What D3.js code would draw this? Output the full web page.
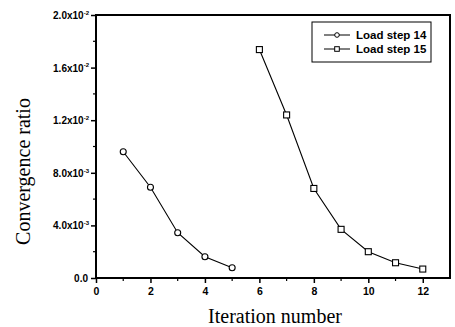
<!DOCTYPE html>
<html><head><meta charset="utf-8">
<script src="https://cdn.jsdelivr.net/npm/d3@7"></script>
<style>body{margin:0;background:#fff}</style>
</head><body>
<script>
const xs14 = [1, 2, 3, 4, 5];
const ys14 = [0.00960, 0.00690, 0.00344, 0.00162, 0.00078];
const xs15 = [6, 7, 8, 9, 10, 11, 12];
const ys15 = [0.01737, 0.01240, 0.00681, 0.00370, 0.00200, 0.00116, 0.00068];
const xTicks = [0, 2, 4, 6, 8, 10, 12];
const yTicks = [0, 0.004, 0.008, 0.012, 0.016, 0.020];
const yTickMant = ["0.0", "4.0x10", "8.0x10", "1.2x10", "1.6x10", "2.0x10"];
const yTickExp = ["", "-3", "-3", "-2", "-2", "-2"];
const seriesNames = ["Load step 14", "Load step 15"];

const W = 455, H = 327;
const L = 96, R = 450, T = 15, B = 278;
const svg = d3.select("body").append("svg").attr("width", W).attr("height", H);
const x = d3.scaleLinear().domain([0, 13]).range([L, R]);
const y = d3.scaleLinear().domain([0, 0.02]).range([B, T]);

// frame
svg.append("rect").attr("x", L).attr("y", T).attr("width", R - L).attr("height", B - T)
  .attr("fill", "none").attr("stroke", "#000").attr("stroke-width", 2);

// x axis
const xAx = svg.append("g").attr("transform", `translate(0,${B})`)
  .call(d3.axisBottom(x).tickValues(xTicks).tickSize(5).tickFormat(d3.format("d")));
xAx.select(".domain").remove();
xAx.selectAll("line").attr("stroke-width", 1.5);
xAx.selectAll("text").attr("font-family", "Liberation Sans, Arial, sans-serif")
  .attr("font-weight", "bold").attr("font-size", 10.5).attr("dy", "0.9em").attr("fill", "#000");
const xMinor = d3.range(1, 13, 2);
svg.append("g").selectAll("line").data(xMinor).join("line")
  .attr("x1", d => x(d)).attr("x2", d => x(d)).attr("y1", B).attr("y2", B + 3)
  .attr("stroke", "#000").attr("stroke-width", 1.2);

// y axis
const yAx = svg.append("g").attr("transform", `translate(${L},0)`)
  .call(d3.axisLeft(y).tickValues(yTicks).tickSize(5).tickFormat(() => ""));
yAx.select(".domain").remove();
yAx.selectAll("line").attr("stroke-width", 1.5);
yAx.selectAll("text").each(function(d, i) {
  const t = d3.select(this).text(null)
    .attr("font-family", "Liberation Sans, Arial, sans-serif")
    .attr("font-weight", "bold").attr("font-size", 10).attr("fill", "#000")
    .attr("x", yTickExp[i] ? -7 : -8).attr("dy", "0.35em");
  t.append("tspan").text(yTickMant[i]);
  if (yTickExp[i]) t.append("tspan").text(yTickExp[i]).attr("font-size", 6).attr("dy", "-0.7em");
});
const yMinor = d3.range(0.002, 0.02, 0.004);
svg.append("g").selectAll("line").data(yMinor).join("line")
  .attr("x1", L - 3).attr("x2", L).attr("y1", d => y(d)).attr("y2", d => y(d))
  .attr("stroke", "#000").attr("stroke-width", 1.2);

// lines
const line = d3.line().x(d => x(d[0])).y(d => y(d[1]));
const d14 = xs14.map((v, i) => [v, ys14[i]]);
const d15 = xs15.map((v, i) => [v, ys15[i]]);
svg.append("path").attr("d", line(d14)).attr("fill", "none").attr("stroke", "#000").attr("stroke-width", 1.1);
svg.append("path").attr("d", line(d15)).attr("fill", "none").attr("stroke", "#000").attr("stroke-width", 1.1);
svg.append("g").selectAll("circle").data(d14).join("circle")
  .attr("cx", d => x(d[0])).attr("cy", d => y(d[1])).attr("r", 3)
  .attr("fill", "#fff").attr("stroke", "#000").attr("stroke-width", 1.1);
svg.append("g").selectAll("rect").data(d15).join("rect")
  .attr("x", d => x(d[0]) - 3).attr("y", d => y(d[1]) - 3).attr("width", 6).attr("height", 6)
  .attr("fill", "#fff").attr("stroke", "#000").attr("stroke-width", 1.1);

// legend
const lg = svg.append("g");
lg.append("rect").attr("x", 312).attr("y", 22).attr("width", 119).attr("height", 40)
  .attr("fill", "#fff").attr("stroke", "#000").attr("stroke-width", 1);
seriesNames.forEach((n, i) => {
  const cy = 35 + i * 14;
  lg.append("line").attr("x1", 324).attr("x2", 350).attr("y1", cy).attr("y2", cy)
    .attr("stroke", "#000").attr("stroke-width", 1);
  if (i === 0) lg.append("circle").attr("cx", 337).attr("cy", cy).attr("r", 2.3)
    .attr("fill", "#fff").attr("stroke", "#000");
  else lg.append("rect").attr("x", 334.7).attr("y", cy - 2.3).attr("width", 4.6).attr("height", 4.6)
    .attr("fill", "#fff").attr("stroke", "#000");
  lg.append("text").attr("x", 356).attr("y", cy).attr("dy", "0.35em").text(n)
    .attr("font-family", "Liberation Sans, Arial, sans-serif").attr("font-weight", "bold")
    .attr("font-size", 11.5).attr("fill", "#000");
});

// axis titles
svg.append("text").attr("x", (L + R) / 2 + 2).attr("y", 323).attr("text-anchor", "middle")
  .attr("font-family", "Liberation Serif, Times New Roman, serif").attr("font-size", 20)
  .attr("fill", "#000").text("Iteration number");
svg.append("text").attr("transform", `translate(30,${(T + B) / 2 + 25}) rotate(-90)`)
  .attr("text-anchor", "middle")
  .attr("font-family", "Liberation Serif, Times New Roman, serif").attr("font-size", 20)
  .attr("fill", "#000").text("Convergence ratio");
</script>
</body></html>
